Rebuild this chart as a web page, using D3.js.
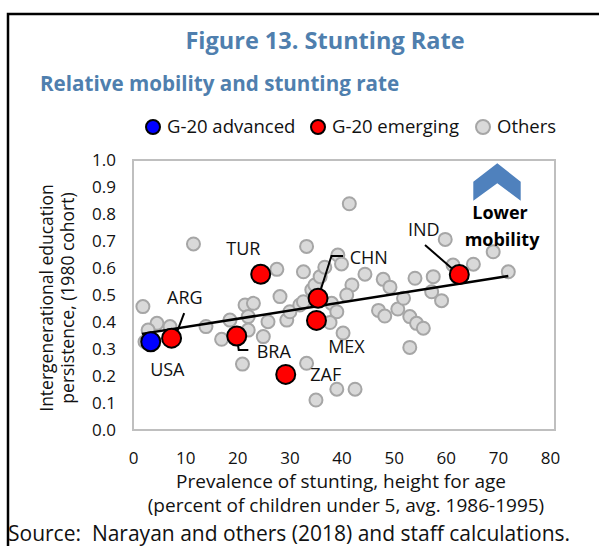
<!DOCTYPE html>
<html>
<head>
<meta charset="utf-8">
<script src="https://cdn.jsdelivr.net/npm/d3@7"></script>
<style>
  body{margin:0;background:#fff;}
  svg{display:block;font-family:"Open Sans",sans-serif;}
</style>
</head>
<body>
<svg id="chart" width="599" height="546"></svg>
<script>
// data
var othersX = [1.9,4.6,7.1,2.9,2.3,11.6,14.0,17.0,18.6,21.5,23.1,22.1,22.1,25.0,25.9,21.0,
  27.6,28.2,29.5,30.1,32.0,32.7,32.7,33.3,34.3,34.9,35.9,36.8,39.3,40.0,41.5,44.5,48.0,49.3,
  42.0,41.0,38.1,39.1,47.1,48.3,50.8,37.8,40.3,33.3,39.1,42.6,35.1,53.1,59.9,69.1,72.0,65.3,
  61.4,57.6,54.1,57.3,59.2,51.9,53.1,54.4,55.7];
var othersY = [0.457,0.395,0.383,0.370,0.327,0.689,0.383,0.336,0.407,0.463,0.469,0.420,0.370,0.346,0.401,0.244,
  0.595,0.494,0.407,0.438,0.463,0.475,0.586,0.680,0.519,0.537,0.568,0.603,0.648,0.615,0.838,0.577,0.558,0.529,
  0.537,0.500,0.469,0.438,0.443,0.422,0.448,0.398,0.359,0.247,0.151,0.151,0.111,0.306,0.706,0.660,0.586,0.614,
  0.611,0.568,0.562,0.512,0.479,0.488,0.420,0.395,0.377];

var advCodes = ["USA"];
var advX = [3.4];
var advY = [0.327];

var emCodes = ["ARG","BRA","TUR","CHN","MEX","ZAF","IND"];
var emX = [7.4,19.9,24.5,35.5,35.2,29.3,62.6];
var emY = [0.340,0.348,0.577,0.488,0.406,0.206,0.576];

var trendX = [1.7,72.0];
var trendY = [0.356,0.570];

var xTicks = [0,10,20,30,40,50,60,70,80];
var yTicks = [0,0.1,0.2,0.3,0.4,0.5,0.6,0.7,0.8,0.9,1.0];

var legendNames = ["G-20 advanced","G-20 emerging","Others"];

// label placement, pixels relative to the marker
var labelPos = {
  USA:{dx:16.6,dy:27.6,anchor:"middle"},
  ARG:{dx:13.3,dy:-40.3,anchor:"middle",leader:[[12.6,-25],[5,-5]]},
  BRA:{dx:20,dy:16,anchor:"start",leader:[[0,0],[2,14],[11.6,14]]},
  TUR:{dx:-17.4,dy:-25.3,anchor:"middle"},
  CHN:{dx:31.7,dy:-41,anchor:"start",leader:[[0,0],[13.4,-42.3],[25,-42.3]]},
  MEX:{dx:30,dy:26.2,anchor:"middle"},
  ZAF:{dx:40,dy:0.7,anchor:"middle"},
  IND:{dx:-35.5,dy:-44.5,anchor:"middle",leader:[[-34.3,-29.5],[-1,-0.5]]}
};

var blue = "#4f7fae";
var ink = "#111";
var svg = d3.select("#chart");

// outer box
svg.append("rect").attr("x",8).attr("y",14).attr("width",620).attr("height",600)
  .attr("fill","none").attr("stroke","#000").attr("stroke-width",2.5);

svg.append("text").attr("x",325).attr("y",49).attr("text-anchor","middle")
  .attr("font-size",23.5).attr("font-weight","bold").attr("fill",blue)
  .text("Figure 13. Stunting Rate");
svg.append("text").attr("x",40).attr("y",91)
  .attr("font-size",20.6).attr("font-weight","bold").attr("fill",blue)
  .text("Relative mobility and stunting rate");

// legend
var legX = [153,318,483];
var legFill = ["#0000ff","#ff0000","#d9d9d9"];
var legStroke = ["#000","#000","#a6a6a6"];
var leg = svg.append("g");
legendNames.forEach(function(n,i){
  leg.append("circle").attr("cx",legX[i]).attr("cy",127).attr("r",7)
    .attr("fill",legFill[i]).attr("stroke",legStroke[i]).attr("stroke-width",2);
  leg.append("text").attr("x",legX[i]+14).attr("y",127).attr("dy","0.35em")
    .attr("font-size",18.5).attr("fill",ink).text(n);
});

var x = d3.scaleLinear().domain([0,80]).range([133,550]);
var y = d3.scaleLinear().domain([0,1]).range([430,160]);

// plot frame
svg.append("rect").attr("x",133).attr("y",160).attr("width",422).attr("height",270)
  .attr("fill","none").attr("stroke","#bfbfbf").attr("stroke-width",2);

var xAxis = svg.append("g").attr("transform","translate(0,430)")
  .call(d3.axisBottom(x).tickValues(xTicks).tickSize(0).tickPadding(22));
var yAxis = svg.append("g").attr("transform","translate(133,0)")
  .call(d3.axisLeft(y).tickValues(yTicks).tickFormat(d3.format(".1f")).tickSize(0).tickPadding(17));
[xAxis,yAxis].forEach(function(a){
  a.select(".domain").remove();
  a.selectAll("text").attr("font-size",17).attr("fill",ink).attr("font-family","Open Sans, sans-serif");
});

svg.append("text").attr("x",341).attr("y",481).attr("dy","0.35em").attr("text-anchor","middle")
  .attr("font-size",19).attr("fill",ink).text("Prevalence of stunting, height for age");
svg.append("text").attr("x",346).attr("y",505).attr("dy","0.35em").attr("text-anchor","middle")
  .attr("font-size",19).attr("fill",ink).text("(percent of children under 5, avg. 1986-1995)");
var yt = svg.append("text").attr("transform","translate(47,298) rotate(-90)")
  .attr("text-anchor","middle").attr("font-size",17.5).attr("fill",ink);
yt.append("tspan").attr("x",0).attr("dy","0.35em").text("Intergenerational education");
yt.append("tspan").attr("x",0).attr("dy","1.2em").text("persistence, (1980 cohort)");

svg.append("text").attr("x",8).attr("y",534).attr("dy","0.35em")
  .style("white-space","pre")
  .attr("font-size",21).attr("fill",ink).text("Source:  Narayan and others (2018) and staff calculations.");

// others
svg.append("g").selectAll("circle").data(d3.range(othersX.length)).join("circle")
  .attr("cx",function(i){return x(othersX[i]);}).attr("cy",function(i){return y(othersY[i]);})
  .attr("r",6.5).attr("fill","#d9d9d9").attr("stroke","#a6a6a6").attr("stroke-width",2);

// trend line
svg.append("line").attr("x1",x(trendX[0])).attr("y1",y(trendY[0]))
  .attr("x2",x(trendX[1])).attr("y2",y(trendY[1]))
  .attr("stroke","#000").attr("stroke-width",2.5);

function drawGroup(codes,xs,ys,fill){
  var g = svg.append("g");
  codes.forEach(function(c,i){
    var px = x(xs[i]), py = y(ys[i]), p = labelPos[c];
    if(p.leader){
      g.append("path").attr("d",d3.line()(p.leader.map(function(q){return [px+q[0],py+q[1]];})))
        .attr("fill","none").attr("stroke","#000").attr("stroke-width",2);
    }
    g.append("circle").attr("cx",px).attr("cy",py).attr("r",9.5)
      .attr("fill",fill).attr("stroke","#000").attr("stroke-width",2);
    g.append("text").attr("x",px+p.dx).attr("y",py+p.dy).attr("dy","0.35em")
      .attr("text-anchor",p.anchor).attr("font-size",18).attr("fill",ink).text(c);
  });
}
drawGroup(advCodes,advX,advY,"#0000ff");
drawGroup(emCodes,emX,emY,"#ff0000");

// lower mobility arrow
svg.append("path").attr("d","M473.3,181.7L497.3,163.3L520.7,181.7L520.7,200.7L497.3,183.3L473.3,200.7Z")
  .attr("fill","#4f81bd");
svg.append("text").attr("x",500).attr("y",213).attr("dy","0.35em").attr("text-anchor","middle")
  .attr("font-size",18).attr("font-weight","bold").attr("fill","#000").text("Lower");
svg.append("text").attr("x",502).attr("y",240).attr("dy","0.35em").attr("text-anchor","middle")
  .attr("font-size",18).attr("font-weight","bold").attr("fill","#000").text("mobility");
</script>
</body>
</html>
